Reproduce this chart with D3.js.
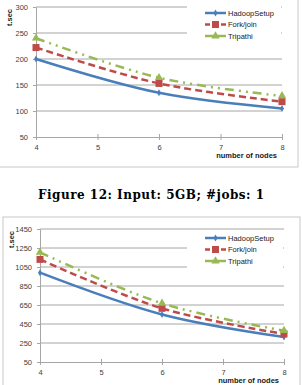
<!DOCTYPE html>
<html>
<head>
<meta charset="utf-8">
<script src="https://cdn.jsdelivr.net/npm/d3@7"></script>
<style>
  body { margin: 0; background: #fff; }
  text { font-family: "Liberation Sans", Arial, sans-serif; }
</style>
</head>
<body>
<div id="chart"></div>
<script>
// data
const nodes = [4, 6, 8];
const xTicks = [4, 5, 6, 7, 8];
const seriesNames = ["HadoopSetup", "Fork/join", "Tripathi"];

// Figure 12 (top chart)
const top_hadoop = [200, 135, 105];
const top_fork = [222, 153, 118];
const top_tripathi = [240, 164, 129];
const topTicks = [50, 100, 150, 200, 250, 300];

// second chart
const bot_hadoop = [990, 550, 312];
const bot_fork = [1130, 615, 345];
const bot_tripathi = [1205, 668, 380];
const botTicks = [50, 250, 450, 650, 850, 1050, 1250, 1450];

const caption = "Figure 12: Input: 5GB; #jobs: 1";

const colors = ["#4a7ebb", "#be4b48", "#98b954"];
const dashes = [null, "7,4", "9,5,2,5,2,5"];

const svg = d3.select("#chart")
    .append("svg")
    .attr("width", 302)
    .attr("height", 385);

function drawChart(cfg) {
    const g = svg.append("g");

    // frame
    g.append("rect")
        .attr("x", cfg.frame[0]).attr("y", cfg.frame[1])
        .attr("width", cfg.frame[2]).attr("height", cfg.frame[3])
        .attr("fill", "white").attr("stroke", "#c8c8c8");

    const x = d3.scaleLinear().domain([4, 8]).range([cfg.left, cfg.right]);
    const y = d3.scaleLinear().domain(d3.extent(cfg.ticks)).range([cfg.bottom, cfg.top]);

    // gridlines
    g.append("g").selectAll("line")
        .data(cfg.ticks.slice(1))
        .enter().append("line")
        .attr("x1", cfg.left).attr("x2", cfg.right)
        .attr("y1", d => y(d)).attr("y2", d => y(d))
        .attr("stroke", "#a6a6a6").attr("stroke-width", 1);

    // y axis
    const yAxis = g.append("g")
        .attr("transform", `translate(${cfg.left},0)`)
        .call(d3.axisLeft(y).tickValues(cfg.ticks).tickFormat(d3.format("d"))
            .tickSize(3).tickSizeOuter(0).tickPadding(5));
    yAxis.select(".domain").attr("stroke", "#a6a6a6");
    yAxis.selectAll(".tick line").attr("stroke", "#a6a6a6");
    yAxis.selectAll("text").attr("font-size", 7.5).attr("fill", "#404040")
        .style("font-family", "'Liberation Sans', Arial, sans-serif");

    // x axis
    const xAxis = g.append("g")
        .attr("transform", `translate(0,${cfg.bottom})`)
        .call(d3.axisBottom(x).tickValues(xTicks).tickFormat(d3.format("d")).tickSize(3).tickSizeOuter(0).tickPadding(5));
    xAxis.select(".domain").attr("stroke", "#a6a6a6");
    xAxis.selectAll(".tick line").attr("stroke", "#a6a6a6").attr("y1", -3).attr("y2", 3);
    xAxis.selectAll("text").attr("font-size", 7.5).attr("fill", "#404040")
        .style("font-family", "'Liberation Sans', Arial, sans-serif");

    // axis titles
    g.append("text")
        .attr("transform", `translate(${cfg.titleX},${cfg.top + 2}) rotate(-90)`)
        .attr("text-anchor", "end")
        .attr("dy", "0.35em")
        .attr("font-size", 7.5).attr("font-weight", "bold").attr("fill", "#202020")
        .text("t.sec");
    g.append("text")
        .attr("x", cfg.right - 5).attr("y", cfg.bottom + 21)
        .attr("text-anchor", "end")
        .attr("font-size", 7.5).attr("font-weight", "bold").attr("fill", "#202020")
        .text("number of nodes");

    // series lines
    const line = d3.line()
        .x((d, i) => x(nodes[i]))
        .y(d => y(d))
        .curve(d3.curveCatmullRom.alpha(0.5));

    const series = cfg.series;
    series.forEach((vals, s) => {
        g.append("path")
            .datum(vals)
            .attr("d", line)
            .attr("fill", "none")
            .attr("stroke", colors[s])
            .attr("stroke-width", 2.5)
            .attr("stroke-dasharray", dashes[s]);
    });

    // markers
    function marker(sel, s) {
        if (s === 0) {
            sel.append("path").attr("d", d3.symbol(d3.symbolDiamond, 14)()).attr("fill", colors[0]);
        } else if (s === 1) {
            sel.append("rect").attr("x", -3.5).attr("y", -3.5).attr("width", 7).attr("height", 7).attr("fill", colors[1]);
        } else {
            sel.append("path").attr("d", d3.symbol(d3.symbolTriangle, 30)()).attr("fill", colors[2]);
        }
    }
    series.forEach((vals, s) => {
        vals.forEach((v, i) => {
            const m = g.append("g").attr("transform", `translate(${x(nodes[i])},${y(v)})`);
            marker(m, s);
        });
    });

    // legend
    const lg = g.append("g");
    lg.append("rect")
        .attr("x", cfg.legend[0] - 18).attr("y", cfg.legend[1] - 8)
        .attr("width", cfg.right - cfg.legend[0] + 17).attr("height", 38)
        .attr("fill", "white");
    seriesNames.forEach((name, s) => {
        const ly = cfg.legend[1] + s * 11.5;
        lg.append("line")
            .attr("x1", cfg.legend[0]).attr("x2", cfg.legend[0] + 21)
            .attr("y1", ly).attr("y2", ly)
            .attr("stroke", colors[s]).attr("stroke-width", 2.5)
            .attr("stroke-dasharray", s === 1 ? "5,3" : null);
        const m = lg.append("g").attr("transform", `translate(${cfg.legend[0] + 10.5},${ly})`);
        marker(m, s);
        lg.append("text")
            .attr("x", cfg.legend[0] + 23).attr("y", ly)
            .attr("dy", "0.35em")
            .attr("font-size", 7.5).attr("fill", "#202020")
            .text(name);
    });
}

drawChart({
    frame: [-1, -1, 299, 168],
    left: 36, right: 282, top: 7, bottom: 137,
    titleX: 9,
    ticks: topTicks,
    series: [top_hadoop, top_fork, top_tripathi],
    legend: [205, 13]
});

// caption
svg.append("text")
    .attr("x", 151).attr("y", 199)
    .attr("text-anchor", "middle")
    .attr("font-size", 12).attr("font-weight", "bold")
    .attr("textLength", 226)
    .style("font-family", "'DejaVu Serif', 'Liberation Serif', serif")
    .text(caption);

drawChart({
    frame: [3, 217, 297, 175],
    left: 40, right: 284, top: 229, bottom: 362,
    titleX: 11,
    ticks: botTicks,
    series: [bot_hadoop, bot_fork, bot_tripathi],
    legend: [205, 238]
});
</script>
</body>
</html>
